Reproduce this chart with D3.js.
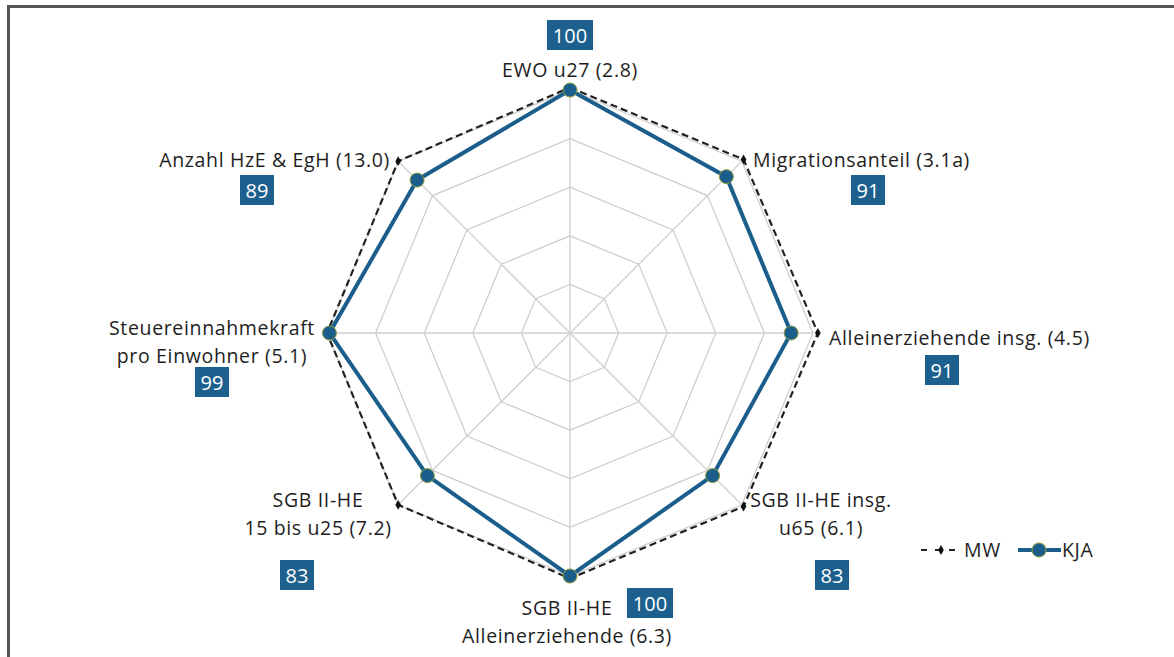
<!DOCTYPE html>
<html lang="de">
<head>
  <meta charset="UTF-8">
  <title>Radar KJA</title>
  <style>
    body { margin: 0; background: #fff; }
    text { font-family: "Open Sans", Lato, sans-serif; }
  </style>
</head>
<body>
  <script src="https://d3js.org/d3.v7.min.js"></script>
  <script>
    // Achsen im Uhrzeigersinn, oben beginnend
    const categories = [
      ["EWO u27 (2.8)"],
      ["Migrationsanteil (3.1a)"],
      ["Alleinerziehende insg. (4.5)"],
      ["SGB II-HE insg.", "u65 (6.1)"],
      ["SGB II-HE", "Alleinerziehende (6.3)"],
      ["SGB II-HE", "15 bis u25 (7.2)"],
      ["Steuereinnahmekraft", "pro Einwohner (5.1)"],
      ["Anzahl HzE & EgH (13.0)"]
    ];
    const kjaValues = [100, 91, 91, 83, 100, 83, 99, 89];
    const mwValues = [101, 101, 102, 101, 101, 100, 100, 100];
    const gridTicks = [20, 40, 60, 80, 100];

    const width = 1174;
    const height = 657;
    const cx = 570, cy = 333;

    const svg = d3.select("body").append("svg").attr("width", width).attr("height", height);

    // Rahmen (nur oben und links sichtbar)
    svg.append("path")
      .attr("d", "M8.5,657 L8.5,6.5 L1174,6.5")
      .attr("fill", "none")
      .attr("stroke", "#555")
      .attr("stroke-width", 3);

    const rScale = d3.scaleLinear().domain([0, 100]).range([0, 243]);
    const angle = d3.scaleLinear().domain([0, categories.length]).range([0, 2 * Math.PI]);

    const g = svg.append("g").attr("transform", "translate(" + cx + "," + cy + ")");

    function pt(i, v) {
      const a = angle(i);
      return [Math.sin(a) * rScale(v), -Math.cos(a) * rScale(v)];
    }

    const radial = d3.lineRadial()
      .angle(function(d, i) { return angle(i); })
      .radius(function(d) { return rScale(d); })
      .curve(d3.curveLinearClosed);

    // Gitter
    gridTicks.forEach(function(t) {
      g.append("path")
        .attr("d", radial(categories.map(function() { return t; })))
        .attr("fill", "none")
        .attr("stroke", "#cfcfcf")
        .attr("stroke-width", 1.3);
    });
    categories.forEach(function(c, i) {
      const p = pt(i, 100);
      g.append("line")
        .attr("x1", 0).attr("y1", 0)
        .attr("x2", p[0]).attr("y2", p[1])
        .attr("stroke", "#cfcfcf")
        .attr("stroke-width", 1.3);
    });

    // MW
    g.append("path")
      .attr("d", radial(mwValues))
      .attr("fill", "none")
      .attr("stroke", "#222")
      .attr("stroke-width", 2.2)
      .attr("stroke-dasharray", "7,4");
    g.selectAll(".mw")
      .data(mwValues)
      .enter()
      .append("path")
      .attr("class", "mw")
      .attr("d", d3.symbol().type(d3.symbolDiamond).size(28))
      .attr("transform", function(d, i) { const p = pt(i, d); return "translate(" + p[0] + "," + p[1] + ")"; })
      .attr("fill", "#111");

    // KJA
    g.append("path")
      .attr("d", radial(kjaValues))
      .attr("fill", "none")
      .attr("stroke", "#1b5e8c")
      .attr("stroke-width", 4);
    g.selectAll(".kja")
      .data(kjaValues)
      .enter()
      .append("circle")
      .attr("class", "kja")
      .attr("cx", function(d, i) { return pt(i, d)[0]; })
      .attr("cy", function(d, i) { return pt(i, d)[1]; })
      .attr("r", 7)
      .attr("fill", "#1b5e8c")
      .attr("stroke", "#8f9b3c")
      .attr("stroke-width", 1);

    // Beschriftungen: [x, y der ersten Zeile, anchor, box-x, box-y]
    const labelLayout = [
      [570, 77, "middle", 570, 35],
      [753, 167, "start", 868, 190],
      [829, 345, "start", 942, 370],
      [821, 507, "middle", 832, 575],
      [567, 615, "middle", 650, 603],
      [318, 507, "middle", 297, 575],
      [212, 335, "middle", 212, 382],
      [390, 167, "end", 257, 190]
    ];

    const fontSize = 19.5;
    const spacing = 0.65;

    categories.forEach(function(lines, i) {
      const L = labelLayout[i];
      const t = svg.append("text")
        .attr("x", L[0]).attr("y", L[1])
        .attr("text-anchor", L[2])
        .attr("font-size", fontSize)
        .attr("letter-spacing", spacing)
        .attr("font-weight", 500)
        .attr("fill", "#1e1e1e");
      lines.forEach(function(s, j) {
        t.append("tspan").attr("x", L[0]).attr("dy", j === 0 ? 0 : 28).text(s);
      });
      const label = String(kjaValues[i]);
      const bw = label.length > 2 ? 46 : 34;
      svg.append("rect")
        .attr("x", L[3] - bw / 2).attr("y", L[4] - 15)
        .attr("width", bw).attr("height", 30)
        .attr("fill", "#1d5f8d");
      svg.append("text")
        .attr("x", L[3]).attr("y", L[4] + 7.5)
        .attr("text-anchor", "middle")
        .attr("font-size", 20)
        .attr("fill", "#fff")
        .text(label);
    });

    // Legende
    const lg = svg.append("g").attr("transform", "translate(0,550)");
    lg.append("line").attr("x1", 921).attr("x2", 962).attr("y1", 0).attr("y2", 0)
      .attr("stroke", "#222").attr("stroke-width", 2.2).attr("stroke-dasharray", "6,8");
    lg.append("path").attr("d", d3.symbol().type(d3.symbolDiamond).size(28))
      .attr("transform", "translate(941,0)").attr("fill", "#111");
    lg.append("text").attr("x", 964).attr("y", 7).attr("font-size", fontSize)
      .attr("letter-spacing", spacing).attr("font-weight", 500).attr("fill", "#1e1e1e").text("MW");
    lg.append("line").attr("x1", 1018).attr("x2", 1061).attr("y1", 0).attr("y2", 0)
      .attr("stroke", "#1b5e8c").attr("stroke-width", 4);
    lg.append("circle").attr("cx", 1039).attr("cy", 0).attr("r", 7)
      .attr("fill", "#1b5e8c").attr("stroke", "#8f9b3c").attr("stroke-width", 1);
    lg.append("text").attr("x", 1062).attr("y", 7).attr("font-size", fontSize)
      .attr("letter-spacing", spacing).attr("font-weight", 500).attr("fill", "#1e1e1e").text("KJA");
  </script>
</body>
</html>
